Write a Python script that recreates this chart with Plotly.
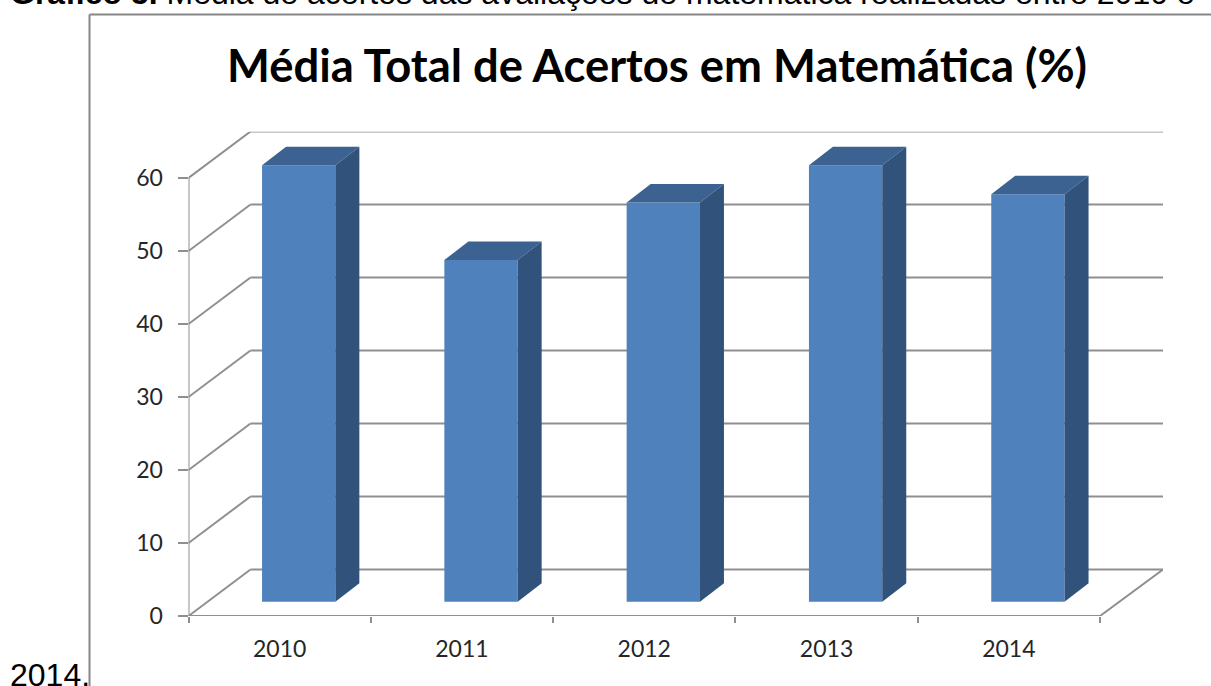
import plotly.graph_objects as go

years = [2010, 2011, 2012, 2013, 2014]
values = [59.8, 46.8, 54.7, 59.8, 55.8]
y_ticks = [0, 10, 20, 30, 40, 50, 60]
title_text = "Média Total de Acertos em Matemática (%)"
caption_top = "<b>Gráfico 5.</b> Média de acertos das avaliações de matemática realizadas entre 2010 e"
caption_bottom = "2014."

W, H = 1211, 686
AX_L, AX_R, AX_B, Y60 = 188.5, 1100, 616, 178
WALL_R, WALL_T = 1163, 131.7

def fx(p): return p / W
def fy(p): return 1 - p / H

ux = (AX_R - AX_L) / 5
uy = (AX_B - Y60) / 60
xmin = years[0] - 0.5
xend = years[-1] + 0.5
xmax = xmin + (WALL_R - AX_L) / ux
ymax = (AX_B - WALL_T) / uy

wall_dx = 62 / ux
wall_dy = 46.5 / uy
bar_base = 14.3 / uy
bar_off = -17.6 / ux
bar_w = 73.3 / ux
dep_x = 24 / ux
dep_y = 18.5 / uy

GRID = "#8f8f8f"
FRONT, TOP, SIDE = "#4f81bd", "#3b6291", "#31527b"

shapes = []
def seg(x0, y0, x1, y1):
    shapes.append(dict(type="line", xref="x", yref="y", x0=x0, y0=y0, x1=x1, y1=y1,
                       line=dict(color=GRID, width=2), layer="below"))

for v in y_ticks:
    seg(xmin, v, xmin + wall_dx, v + wall_dy)
    seg(xmin + wall_dx, v + wall_dy, xmax, v + wall_dy)
seg(xmin, 0, xmin, 60)
seg(xmin, 0, xend, 0)
seg(xend, 0, xmax, wall_dy)

# outer picture frame
shapes.append(dict(type="line", xref="paper", yref="paper", x0=fx(89.5), x1=fx(89.5), y0=fy(14.5), y1=0,
                   line=dict(color="#868686", width=2)))
shapes.append(dict(type="line", xref="paper", yref="paper", x0=fx(89.5), x1=1, y0=fy(14.5), y1=fy(14.5),
                   line=dict(color="#868686", width=2)))

fig = go.Figure()
fig.add_trace(go.Bar(x=years, y=values, base=bar_base, width=bar_w, offset=bar_off,
                     marker=dict(color=FRONT, line=dict(width=0)), hoverinfo="x+y", showlegend=False))

for yr, v in zip(years, values):
    l = yr + bar_off
    r = l + bar_w
    t = bar_base + v
    fig.add_trace(go.Scatter(x=[l, r, r + dep_x, l + dep_x, l], y=[t, t, t + dep_y, t + dep_y, t],
                             mode="lines", line=dict(width=0), fill="toself", fillcolor=TOP,
                             hoverinfo="skip", showlegend=False))
    fig.add_trace(go.Scatter(x=[r, r + dep_x, r + dep_x, r, r],
                             y=[bar_base, bar_base + dep_y, t + dep_y, t, bar_base],
                             mode="lines", line=dict(width=0), fill="toself", fillcolor=SIDE,
                             hoverinfo="skip", showlegend=False))

fig.update_layout(
    width=W, height=H, margin=dict(l=0, r=0, t=0, b=0),
    paper_bgcolor="white", plot_bgcolor="white", showlegend=False,
    font=dict(family="Lato", color="#262626"),
    xaxis=dict(domain=[fx(AX_L), fx(WALL_R)], range=[xmin, xmax], tickvals=years, ticktext=[str(y) for y in years],
               automargin=False, showgrid=False, zeroline=False, showline=False, ticks="", ticklen=0,
               tickfont=dict(size=23, family="Lato", color="#262626"), ticklabelstandoff=17,
               minor=dict(tickvals=[xmin + i for i in range(6)], ticks="outside", ticklen=6, tickwidth=2, tickcolor=GRID, showgrid=False)),
    yaxis=dict(domain=[fy(AX_B), fy(WALL_T)], range=[0, ymax], tickvals=y_ticks,
               automargin=False, showgrid=False, zeroline=False, showline=False, ticks="outside", ticklen=10, tickwidth=2, tickcolor=GRID,
               tickfont=dict(size=23, family="Lato", color="#262626"), ticklabelstandoff=10),
    shapes=shapes,
    annotations=[
        dict(text=title_text, xref="paper", yref="paper", x=fx(657), y=fy(64), xanchor="center", yanchor="middle",
             showarrow=False, font=dict(family="Lato", size=45.4, color="#000000", weight="bold")),
        dict(text=caption_top, xref="paper", yref="paper", x=fx(7.5), y=fy(13.5), xanchor="left", yanchor="bottom",
             showarrow=False, font=dict(family="Liberation Sans", size=32, color="#000000")),
        dict(text=caption_bottom, xref="paper", yref="paper", x=fx(8), y=fy(695), xanchor="left", yanchor="bottom",
             showarrow=False, font=dict(family="Liberation Sans", size=32, color="#000000")),
    ],
)
fig.write_html("out.html", config={"displayModeBar": False}, post_script="document.body.style.margin='0';")
